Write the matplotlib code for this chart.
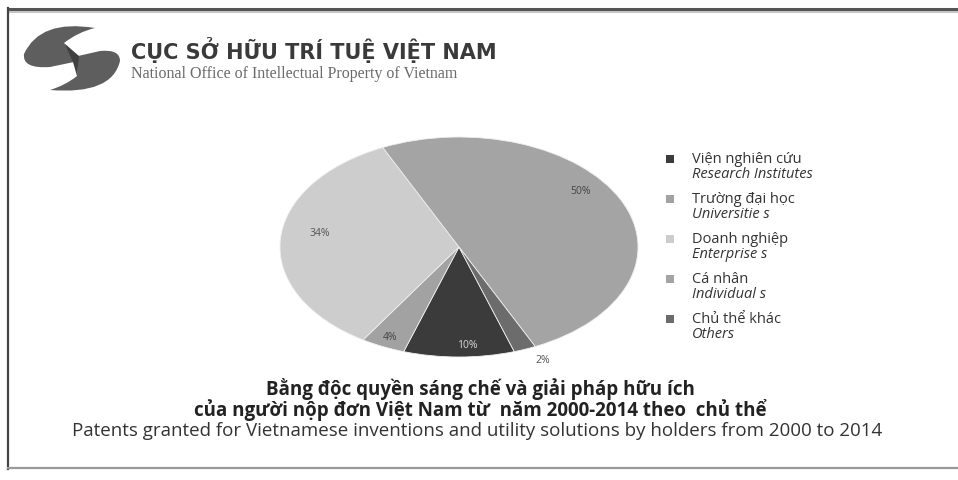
import matplotlib
matplotlib.use("Agg")
import matplotlib.pyplot as plt
from matplotlib.path import Path
from matplotlib.patches import PathPatch, Rectangle
import numpy as np

# data
vn_names = ["Viện nghiên cứu", "Trường đại học", "Doanh nghiệp", "Cá nhân", "Chủ thể khác"]
en_names = ["Research Institutes", "Universitie s", "Enterprise s", "Individual s", "Others"]
shares = [10, 4, 34, 50, 2]
colors = ["#3b3b3b", "#a2a2a2", "#cdcdcd", "#a4a4a4", "#6c6c6c"]
label_colors = ["#d8d8d8", "#444444", "#555555", "#444444", "#555555"]
label_radius = [0.89, 0.90, 0.79, 0.85, 1.12]
label_shift = [3, 0, -6, 12, 3]   # degrees, to follow the original placement

W, H = 958, 481
fig = plt.figure(figsize=(W / 100, H / 100), dpi=100)
fig.patch.set_facecolor("white")

# overlay in pixel coordinates for frame, logo and text
bg = fig.add_axes([0, 0, 1, 1])
bg.set_xlim(0, W)
bg.set_ylim(H, 0)
bg.axis("off")

# frame
bg.plot([8, W + 5], [10, 10], color="#555555", lw=2.2, solid_capstyle="butt")
bg.plot([8, W + 5], [12.5, 12.5], color="#bbbbbb", lw=1.2, solid_capstyle="butt")
bg.plot([8, 8], [9, 470], color="#444444", lw=1.6)
bg.plot([8, W + 5], [469, 469], color="#999999", lw=1.6)

# logo (two blades and a darker twist in the middle)
C3, L, M = Path.CURVE3, Path.LINETO, Path.MOVETO
top = Path([(95, 29), (40, 20), (24, 55), (22, 70), (50, 68), (74, 63), (64, 44), (78, 33), (95, 29)],
           [M, C3, C3, C3, C3, L, L, C3, C3])
bot = Path([(50, 91), (112, 96), (120, 62), (120, 50), (100, 52), (78, 57), (77, 77), (66, 86), (50, 91)],
           [M, C3, C3, C3, C3, L, L, C3, C3])
bg.add_patch(PathPatch(top, fc="#5e5e5e", ec="none"))
bg.add_patch(PathPatch(bot, fc="#5e5e5e", ec="none"))
bg.add_patch(PathPatch(Path([(64, 44), (79, 57), (77, 77), (73, 63)]), fc="#404040", ec="none"))

bg.text(131, 59, "CỤC SỞ HỮU TRÍ TUỆ VIỆT NAM", fontsize=15, fontweight="bold",
        color="#3a3a3a", family="DejaVu Sans", va="baseline", ha="left")
bg.text(131, 78, "National Office of Intellectual Property of Vietnam", fontsize=11.5,
        color="#6a6a6a", family="Liberation Serif", va="baseline", ha="left")

# legend drawn by hand (two-line labels, second line italic)
for i, (vn, en) in enumerate(zip(vn_names, en_names)):
    y0 = 160 + 40 * i
    bg.add_patch(Rectangle((666, y0 - 4), 8, 8, fc=colors[i], ec="none"))
    bg.text(692, y0, vn, fontsize=10.5, color="#333333", family="Open Sans", va="center")
    bg.text(692, y0 + 15, en, fontsize=10.5, color="#333333", family="Open Sans",
            style="italic", va="center")

# captions
bg.text(480, 389, "Bằng độc quyền sáng chế và giải pháp hữu ích", fontsize=13.5,
        fontweight="bold", color="#222222", family="Open Sans", ha="center", va="center")
bg.text(480, 410, "của người nộp đơn Việt Nam từ  năm 2000-2014 theo  chủ thể", fontsize=13.5,
        fontweight="bold", color="#222222", family="Open Sans", ha="center", va="center")
bg.text(477, 431, "Patents granted for Vietnamese inventions and utility solutions by holders from 2000 to 2014",
        fontsize=13.5, color="#333333", family="Open Sans", ha="center", va="center")

# the pie, stretched into an ellipse
cx, cy, rx, ry = 459, 248, 179, 110
ax = fig.add_axes([(cx - rx) / W, (H - cy - ry) / H, 2 * rx / W, 2 * ry / H])
wedges, _ = ax.pie(shares, colors=colors, startangle=-72, counterclock=False,
                   wedgeprops=dict(edgecolor="#eeeeee", linewidth=0.6))
ax.set_aspect("auto")
ax.set_xlim(-1, 1)
ax.set_ylim(-1, 1)
ax.axis("off")

for w, s, r, d, c in zip(wedges, shares, label_radius, label_shift, label_colors):
    ang = np.deg2rad((w.theta1 + w.theta2) / 2 + d)
    ax.text(r * np.cos(ang), r * np.sin(ang), f"{s}%", fontsize=7.5, color=c,
            family="Open Sans", ha="center", va="center")

fig.savefig("out.png", dpi=100)
